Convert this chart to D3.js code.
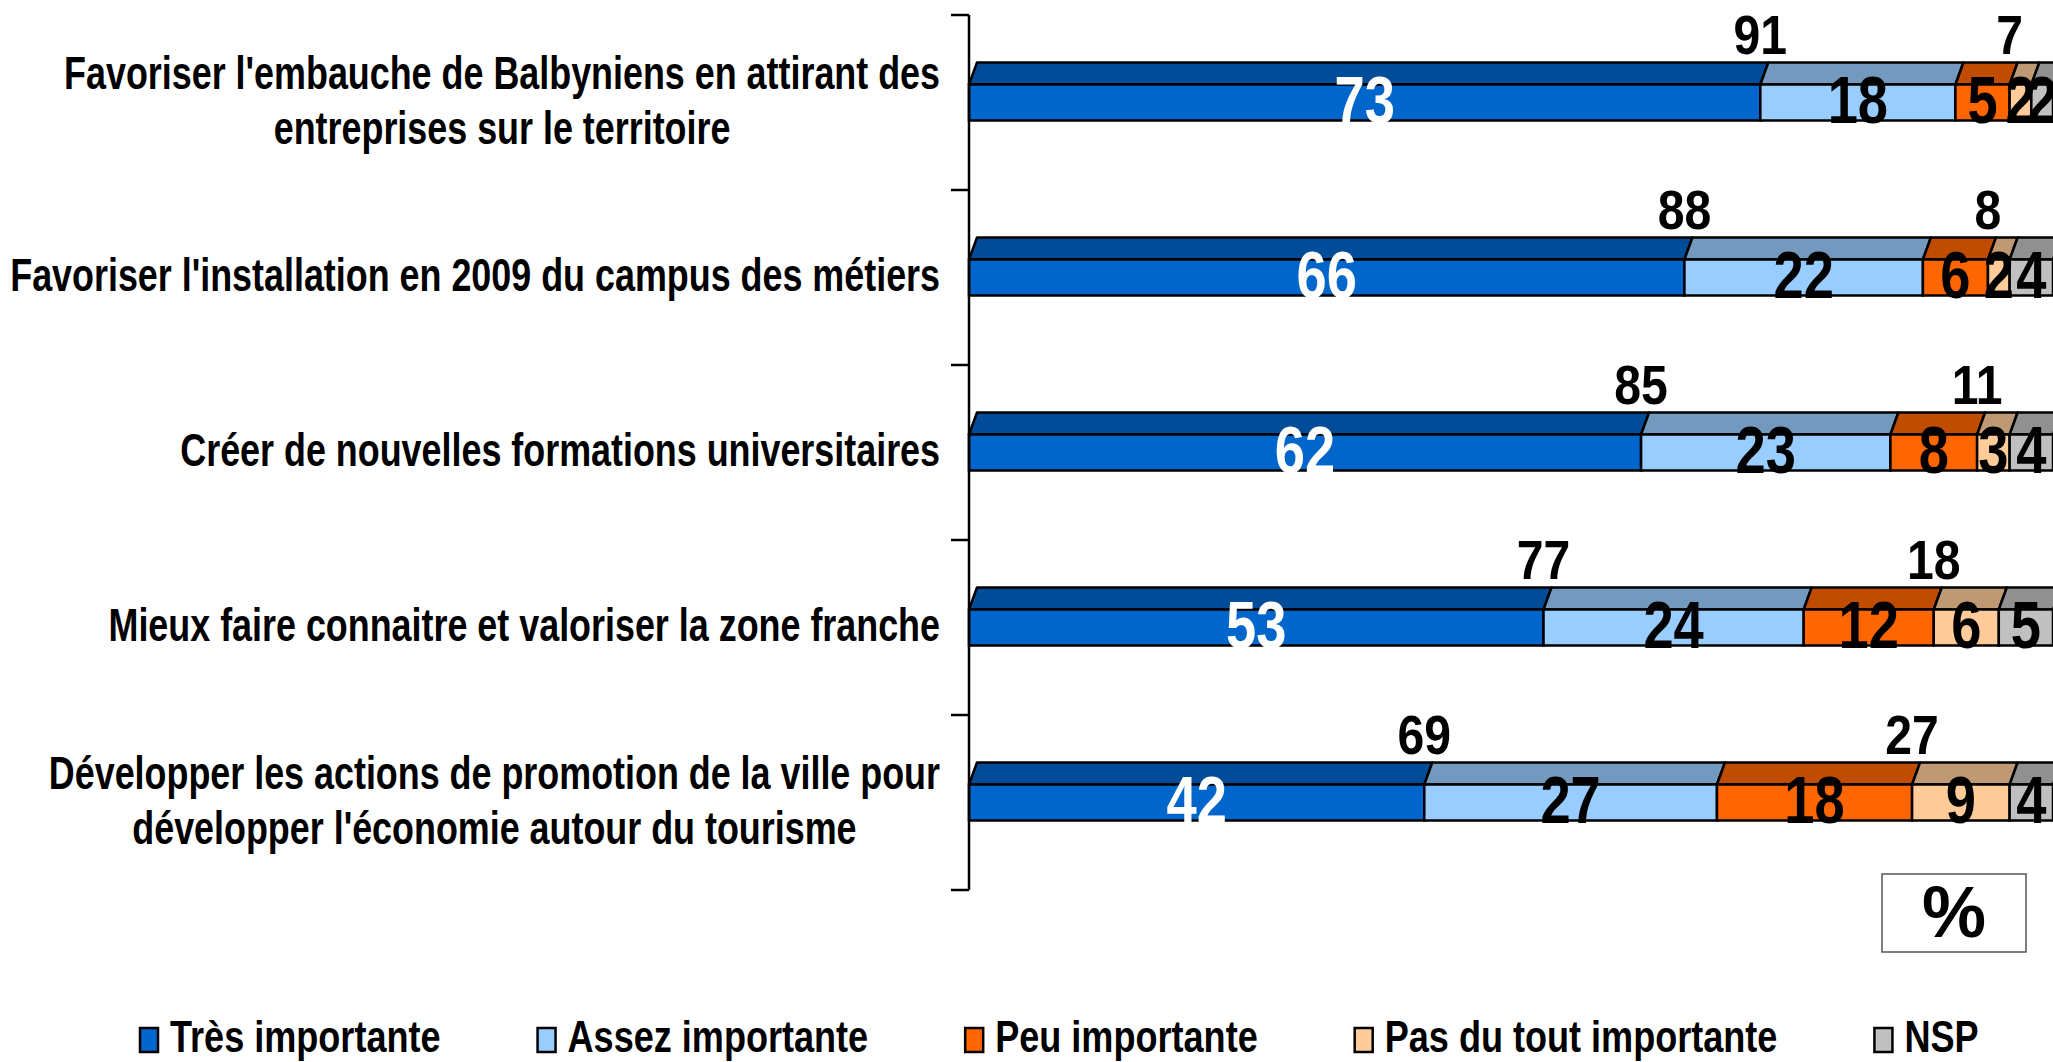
<!DOCTYPE html>
<html><head><meta charset="utf-8">
<script src="https://cdn.jsdelivr.net/npm/d3@7/dist/d3.min.js"></script>
<style>html,body{margin:0;padding:0;background:#fff;overflow:hidden}svg{display:block}</style>
</head><body>
<script>
// ---- data ----
const categories = [
  "Favoriser l'embauche de Balbyniens en attirant des entreprises sur le territoire",
  "Favoriser l'installation en 2009 du campus des métiers",
  "Créer de nouvelles formations universitaires",
  "Mieux faire connaitre et valoriser la zone franche",
  "Développer les actions de promotion de la ville pour développer l'économie autour du tourisme"
];
const categoryLines = [
  ["Favoriser l'embauche de Balbyniens en attirant des", "entreprises sur le territoire"],
  ["Favoriser l'installation en 2009 du campus des métiers"],
  ["Créer de nouvelles formations universitaires"],
  ["Mieux faire connaitre et valoriser la zone franche "],
  ["Développer les actions de promotion de la ville pour", "développer l'économie autour du tourisme"]
];
const seriesNames = ["Très importante", "Assez importante", "Peu importante", "Pas du tout importante", "NSP"];
const tres  = [73, 66, 62, 53, 42];
const assez = [18, 22, 23, 24, 27];
const peu   = [5, 6, 8, 12, 18];
const pas   = [2, 2, 3, 6, 9];
const nsp   = [2, 4, 4, 5, 4];
const unitLabel = "%";

// ---- styles ----
const frontColors = ["#0066CC", "#99CCFF", "#FF6600", "#FFCC99", "#C0C0C0"];
const topColors   = ["#004C99", "#7399BF", "#BF4C00", "#BF9973", "#909090"];
const labelColors = ["#ffffff", "#000000", "#000000", "#000000", "#000000"];
const FONT = "'Liberation Sans', Arial, sans-serif";

const W = 2053, H = 1062;
const svg = d3.select("body").append("svg").attr("width", W).attr("height", H);

const x = d3.scaleLinear().domain([0, 100]).range([969, 2053]);
const y = d3.scaleBand().domain(categories).range([15, 890]).padding(0);

const frontH = 36, depth = 22, dx = 8;

function txt(g, str, px, py, size, sx, opts) {
  opts = opts || {};
  return g.append("text")
    .attr("transform", `translate(${px},${py}) scale(${sx},1)`)
    .attr("font-family", FONT).attr("font-weight", "bold")
    .attr("font-size", size)
    .attr("text-anchor", opts.anchor || "middle")
    .attr("fill", opts.fill || "#000")
    .text(str);
}

// stacked data
const stackRows = categories.map((c, i) => ({cat: c, vals: [tres[i], assez[i], peu[i], pas[i], nsp[i]]}));

const gBars = svg.append("g");
stackRows.forEach((row, i) => {
  const cy = y(row.cat) + y.bandwidth() / 2;
  const fy = cy - frontH / 2;
  let acc = 0;
  const segs = row.vals.map((v, k) => { const s = {k, v, a: acc, b: acc + v}; acc += v; return s; });
  segs.forEach(s => {
    const x0 = x(s.a), x1 = x(s.b);
    gBars.append("path")
      .attr("d", `M${x0},${fy} L${x0 + dx},${fy - depth} L${x1 + dx},${fy - depth} L${x1},${fy} Z`)
      .attr("fill", topColors[s.k]).attr("stroke", "#000").attr("stroke-width", 2.5)
      .attr("stroke-linejoin", "round");
  });
  segs.forEach(s => {
    gBars.append("rect")
      .attr("x", x(s.a)).attr("y", fy)
      .attr("width", x(s.b) - x(s.a)).attr("height", frontH)
      .attr("fill", frontColors[s.k]).attr("stroke", "#000").attr("stroke-width", 2.5);
  });
});

// value labels
const gLab = svg.append("g");
stackRows.forEach((row, i) => {
  const cy = y(row.cat) + y.bandwidth() / 2;
  const fy = cy - frontH / 2;
  let acc = 0;
  row.vals.forEach((v, k) => {
    const mid = x(acc + v / 2);
    txt(gLab, v, mid, fy + frontH + 2, 67, 0.81, {fill: labelColors[k]});
    acc += v;
  });
  const s1 = tres[i] + assez[i];
  const s2 = peu[i] + pas[i];
  txt(gLab, s1, x(tres[i]), fy - depth - 9, 56, 0.86);
  txt(gLab, s2, x(tres[i] + assez[i] + peu[i]), fy - depth - 9, 56, 0.86);
});

// axis
const gAx = svg.append("g");
gAx.append("line").attr("x1", 969).attr("x2", 969).attr("y1", y.range()[0]).attr("y2", y.range()[1])
  .attr("stroke", "#000").attr("stroke-width", 2.5);
const tickYs = categories.map(c => y(c)).concat([y.range()[1]]);
tickYs.forEach(t => {
  gAx.append("line").attr("x1", 951).attr("x2", 969).attr("y1", t).attr("y2", t)
    .attr("stroke", "#000").attr("stroke-width", 2.5);
});

// category labels
const gCat = svg.append("g");
const catSize = 46, catSx = 0.78, lineH = 55, rightEdge = 940;
categories.forEach((c, i) => {
  const cy = y(c) + y.bandwidth() / 2;
  const lines = categoryLines[i];
  const nodes = lines.map(l => txt(gCat, l, 0, 0, catSize, catSx));
  const widths = nodes.map(n => n.node().getComputedTextLength() * catSx);
  const bw = d3.max(widths);
  const cx = rightEdge - bw / 2;
  nodes.forEach((n, j) => {
    const ly = cy + (j - (lines.length - 1) / 2) * lineH + catSize * 0.36 - 3;
    n.attr("transform", `translate(${cx},${ly}) scale(${catSx},1)`);
  });
});

// legend
const gLeg = svg.append("g");
let lx = 140;
seriesNames.forEach((name, k) => {
  gLeg.append("rect").attr("x", lx).attr("y", 1028).attr("width", 18).attr("height", 24)
    .attr("fill", frontColors[k]).attr("stroke", "#000").attr("stroke-width", 2.5);
  const t = txt(gLeg, name, lx + 30, 1052, 44, 0.82, {anchor: "start"});
  const w = t.node().getComputedTextLength() * 0.82;
  lx += 30 + w + 97;
});

// percent box
svg.append("rect").attr("x", 1882).attr("y", 874).attr("width", 144).attr("height", 78)
  .attr("fill", "#fff").attr("stroke", "#555").attr("stroke-width", 1.5);
txt(svg, unitLabel, 1954, 937, 72, 1);
</script>
</body></html>
